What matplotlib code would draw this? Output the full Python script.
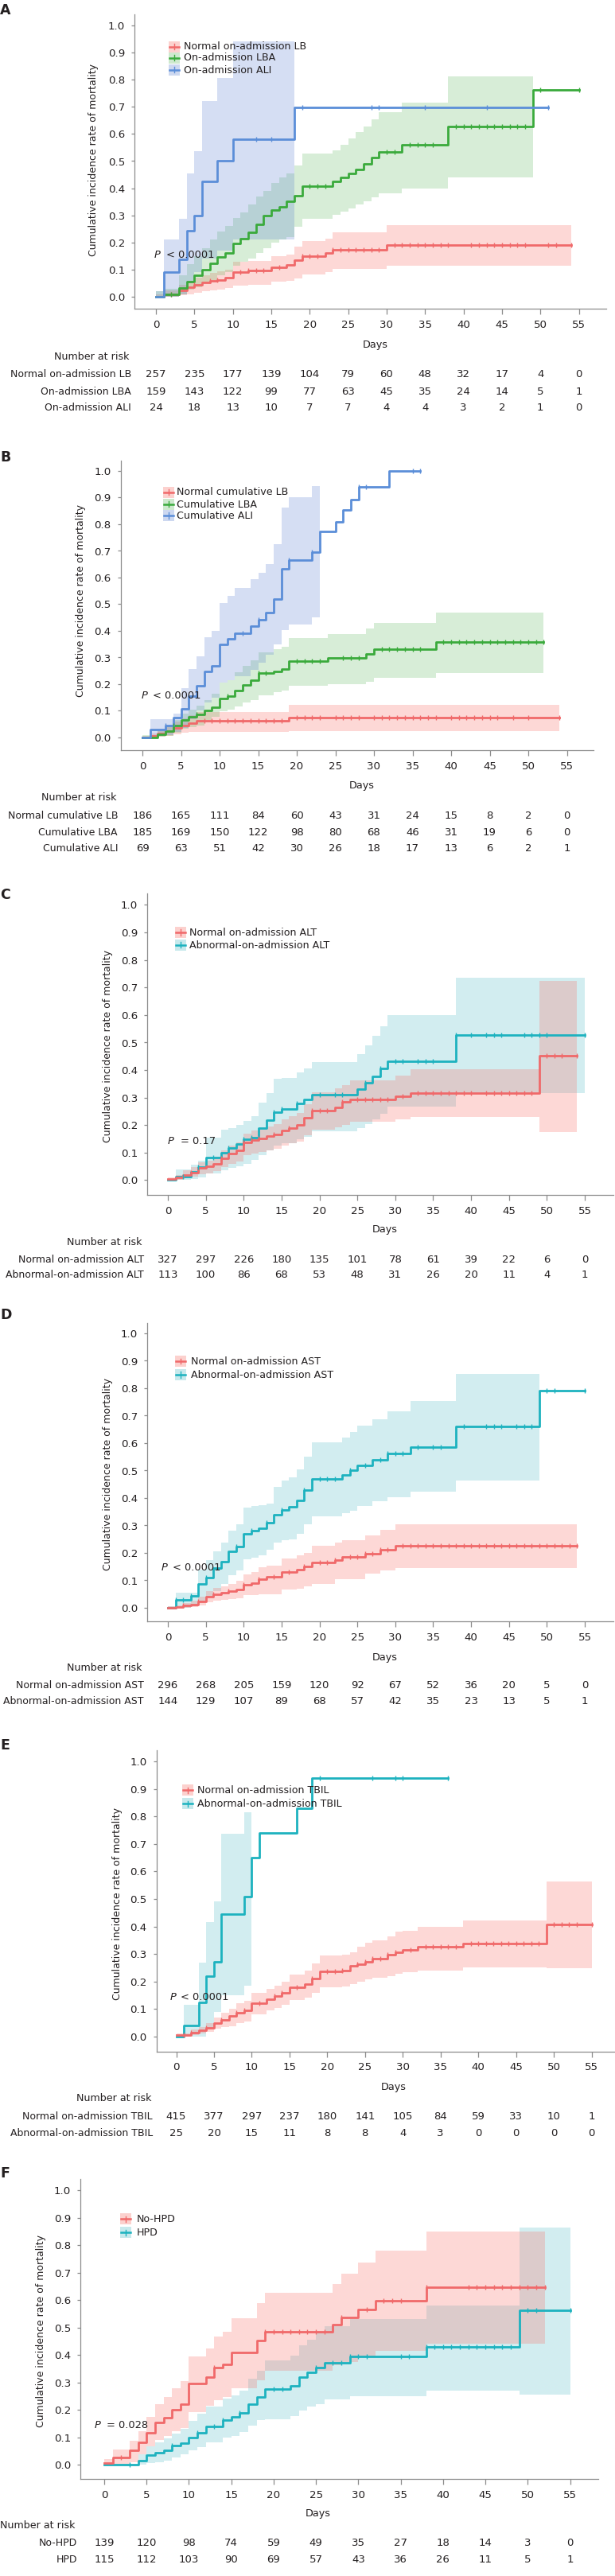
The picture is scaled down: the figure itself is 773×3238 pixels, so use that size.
import numpy as np
import matplotlib
matplotlib.use("Agg")
import matplotlib.pyplot as plt
from matplotlib.patches import Rectangle
from matplotlib.lines import Line2D
from matplotlib.transforms import blended_transform_factory

W, H = 773, 3238
INK = "#231f20"
AXC = "#8c8c8c"
plt.rcParams["font.family"] = "DejaVu Sans"

DAYS = [0, 5, 10, 15, 20, 25, 30, 35, 40, 45, 50, 55]
YTICKS = [0.0, 0.1, 0.2, 0.3, 0.4, 0.5, 0.6, 0.7, 0.8, 0.9, 1.0]

# ---------------- panel A: on-admission LB / LBA / ALI ----------------
a_lb_t = [0, 1, 3, 4, 5, 6, 7, 8, 9, 10, 12, 15, 17, 18, 19, 22, 23, 30]
a_lb_F = [0.0, 0.008, 0.024, 0.034, 0.044, 0.052, 0.059, 0.063, 0.070, 0.091, 0.096, 0.109, 0.117, 0.134, 0.151, 0.161, 0.173, 0.190]
a_lb_lo = [0.0, 0.0, 0.005, 0.01, 0.015, 0.02, 0.024, 0.027, 0.031, 0.042, 0.045, 0.055, 0.06, 0.068, 0.083, 0.09, 0.104, 0.114]
a_lb_hi = [0.01, 0.022, 0.045, 0.058, 0.07, 0.08, 0.088, 0.094, 0.10, 0.128, 0.132, 0.15, 0.155, 0.185, 0.205, 0.215, 0.237, 0.263]
a_lb_end = 54
a_lb_cens = [2, 5, 7, 8, 11, 12, 13, 14, 16, 19, 20, 21, 23, 24, 25, 26, 27, 28, 29, 31, 32, 33, 34, 35,
             36, 37, 38, 41, 42, 43, 44, 45, 46, 47, 48, 51, 52, 54]

a_lba_t = [0, 1, 3, 4, 5, 6, 7, 8, 9, 10, 11, 12, 13, 14, 15, 16, 17, 18, 19, 23, 24, 25, 26, 27, 28, 29, 32, 38, 49]
a_lba_F = [0.0, 0.01, 0.031, 0.057, 0.078, 0.10, 0.122, 0.146, 0.161, 0.197, 0.215, 0.239, 0.268, 0.298, 0.319,
           0.332, 0.351, 0.371, 0.408, 0.424, 0.439, 0.454, 0.47, 0.49, 0.512, 0.535, 0.561, 0.629, 0.761]
a_lba_lo = [0.0, 0.0, 0.01, 0.025, 0.035, 0.05, 0.062, 0.08, 0.09, 0.115, 0.13, 0.14, 0.16, 0.18, 0.2, 0.21,
            0.22, 0.259, 0.288, 0.302, 0.315, 0.325, 0.34, 0.351, 0.366, 0.38, 0.398, 0.441]
a_lba_hi = [0.02, 0.03, 0.08, 0.12, 0.15, 0.18, 0.21, 0.24, 0.26, 0.29, 0.31, 0.34, 0.37, 0.39, 0.42, 0.44,
            0.455, 0.483, 0.527, 0.541, 0.561, 0.583, 0.608, 0.629, 0.654, 0.681, 0.717, 0.813]
a_lba_end = 55
a_lba_cens = [2, 20, 21, 22, 30, 31, 33, 34, 35, 36, 39, 40, 41, 42, 43, 44, 45, 46, 47, 48, 50, 55]

a_ali_t = [0, 1, 3, 4, 5, 6, 8, 10, 18]
a_ali_F = [0.0, 0.091, 0.137, 0.242, 0.30, 0.424, 0.50, 0.58, 0.698]
a_ali_lo = [0.0, 0.0, 0.01, 0.05, 0.09, 0.14, 0.17, 0.21]
a_ali_hi = [0.02, 0.21, 0.288, 0.454, 0.537, 0.72, 0.805, 0.94]
a_ali_end = 51
a_ali_cens = [13, 15, 19, 28, 29, 35, 43, 51]

a_names = ["Normal on-admission LB", "On-admission LBA", "On-admission ALI"]
a_risk_lb = [257, 235, 177, 139, 104, 79, 60, 48, 32, 17, 4, 0]
a_risk_lba = [159, 143, 122, 99, 77, 63, 45, 35, 24, 14, 5, 1]
a_risk_ali = [24, 18, 13, 10, 7, 7, 4, 4, 3, 2, 1, 0]

# ---------------- panel B: cumulative LB / LBA / ALI ----------------
b_lb_t = [0, 1, 2, 3, 4, 5, 6, 7, 19]
b_lb_F = [0.0, 0.005, 0.014, 0.024, 0.035, 0.044, 0.054, 0.062, 0.075]
b_lb_lo = [0.0, 0.0, 0.002, 0.006, 0.012, 0.017, 0.02, 0.02, 0.025]
b_lb_hi = [0.005, 0.015, 0.03, 0.045, 0.06, 0.072, 0.085, 0.095, 0.121]
b_lb_end = 54
b_lb_cens = [8, 9, 10, 11, 12, 13, 14, 15, 16, 17, 18, 20, 21, 22, 23, 25, 26, 27, 28, 30, 31, 32, 33, 34,
             35, 36, 37, 38, 40, 41, 42, 43, 44, 45, 46, 48, 50, 54]

b_lba_t = [0, 2, 3, 4, 5, 6, 7, 8, 9, 10, 11, 12, 13, 14, 15, 17, 18, 19, 24, 29, 30, 38]
b_lba_F = [0.0, 0.012, 0.025, 0.044, 0.067, 0.079, 0.087, 0.10, 0.113, 0.146, 0.156, 0.176, 0.198, 0.216,
           0.241, 0.249, 0.256, 0.286, 0.299, 0.312, 0.33, 0.357]
b_lba_lo = [0.0, 0.002, 0.007, 0.018, 0.032, 0.04, 0.045, 0.067, 0.077, 0.098, 0.105, 0.115, 0.13, 0.14,
            0.158, 0.17, 0.175, 0.193, 0.2, 0.21, 0.224, 0.241]
b_lba_hi = [0.01, 0.025, 0.045, 0.065, 0.09, 0.105, 0.12, 0.14, 0.163, 0.206, 0.215, 0.245, 0.27, 0.29,
            0.318, 0.33, 0.34, 0.373, 0.388, 0.41, 0.43, 0.47]
b_lba_end = 52
b_lba_cens = [4, 7, 11, 15, 16, 20, 21, 22, 23, 26, 27, 28, 31, 32, 33, 34, 35, 36, 39, 40, 41, 42, 43,
              44, 45, 46, 47, 48, 49, 50, 51, 52]

b_ali_t = [0, 1, 3, 4, 5, 6, 7, 8, 9, 10, 11, 12, 14, 15, 16, 17, 18, 19, 22, 23, 25, 26, 27, 28, 32]
b_ali_F = [0.0, 0.029, 0.045, 0.075, 0.108, 0.155, 0.193, 0.249, 0.27, 0.35, 0.37, 0.392, 0.418, 0.442,
           0.47, 0.52, 0.634, 0.666, 0.697, 0.773, 0.81, 0.853, 0.893, 0.939, 1.0]
b_ali_lo = [0.0, 0.005, 0.01, 0.02, 0.035, 0.07, 0.1, 0.13, 0.15, 0.206, 0.215, 0.23, 0.255, 0.28, 0.31,
            0.35, 0.403, 0.425, 0.45]
b_ali_hi = [0.0, 0.069, 0.069, 0.09, 0.186, 0.256, 0.305, 0.375, 0.40, 0.505, 0.532, 0.562, 0.594, 0.619,
            0.652, 0.724, 0.863, 0.90, 0.944]
b_ali_end = 36
b_ali_cens = [3, 13, 15, 19, 22, 28, 29, 35, 36]

b_names = ["Normal cumulative LB", "Cumulative LBA", "Cumulative ALI"]
b_risk_lb = [186, 165, 111, 84, 60, 43, 31, 24, 15, 8, 2, 0]
b_risk_lba = [185, 169, 150, 122, 98, 80, 68, 46, 31, 19, 6, 0]
b_risk_ali = [69, 63, 51, 42, 30, 26, 18, 17, 13, 6, 2, 1]

# ---------------- panel C: ALT ----------------
c_nor_t = [0, 1, 2, 3, 4, 5, 6, 7, 8, 9, 10, 11, 12, 13, 14, 15, 16, 17, 18, 19, 22, 23, 24, 30, 32, 49]
c_nor_F = [0.004, 0.009, 0.018, 0.028, 0.044, 0.05, 0.059, 0.08, 0.096, 0.108, 0.137, 0.146, 0.153, 0.16,
           0.166, 0.181, 0.19, 0.20, 0.226, 0.254, 0.264, 0.285, 0.293, 0.306, 0.316, 0.451]
c_nor_lo = [0.0, 0.002, 0.006, 0.012, 0.022, 0.026, 0.032, 0.048, 0.06, 0.068, 0.09, 0.097, 0.102, 0.108,
            0.113, 0.125, 0.133, 0.14, 0.163, 0.184, 0.192, 0.2, 0.212, 0.22, 0.229, 0.174]
c_nor_hi = [0.01, 0.02, 0.035, 0.048, 0.065, 0.072, 0.085, 0.108, 0.125, 0.138, 0.17, 0.18, 0.188, 0.196,
            0.205, 0.222, 0.232, 0.245, 0.275, 0.319, 0.335, 0.345, 0.364, 0.381, 0.404, 0.725]
c_nor_end = 54
c_nor_cens = [3, 7, 10, 11, 12, 14, 16, 19, 20, 21, 23, 25, 26, 27, 28, 29, 31, 33, 34, 35, 36, 37, 38,
              39, 40, 42, 43, 44, 45, 46, 47, 48, 50, 51, 52, 54]

c_abn_t = [0, 1, 3, 4, 5, 7, 8, 9, 10, 11, 12, 13, 14, 15, 17, 18, 19, 25, 26, 27, 28, 29, 38]
c_abn_F = [0.0, 0.012, 0.03, 0.049, 0.083, 0.1, 0.118, 0.132, 0.148, 0.155, 0.189, 0.218, 0.246, 0.26,
           0.278, 0.293, 0.312, 0.33, 0.355, 0.378, 0.405, 0.433, 0.527]
c_abn_lo = [0.0, 0.0, 0.004, 0.01, 0.025, 0.035, 0.045, 0.05, 0.06, 0.073, 0.09, 0.108, 0.125, 0.135,
            0.148, 0.158, 0.178, 0.19, 0.205, 0.222, 0.24, 0.267, 0.316]
c_abn_hi = [0.0, 0.04, 0.055, 0.07, 0.156, 0.184, 0.19, 0.2, 0.215, 0.234, 0.281, 0.316, 0.368, 0.372,
            0.392, 0.407, 0.43, 0.459, 0.489, 0.524, 0.56, 0.60, 0.735]
c_abn_end = 55
c_abn_cens = [2, 4, 6, 8, 10, 11, 14, 15, 17, 20, 22, 23, 26, 28, 30, 31, 33, 34, 35, 38, 40, 42, 43, 44,
              47, 48, 49, 50, 55]

c_names = ["Normal on-admission ALT", "Abnormal-on-admission ALT"]
c_risk_nor = [327, 297, 226, 180, 135, 101, 78, 61, 39, 22, 6, 0]
c_risk_abn = [113, 100, 86, 68, 53, 48, 31, 26, 20, 11, 4, 1]

# ---------------- panel D: AST ----------------
d_nor_t = [0, 1, 2, 3, 4, 5, 6, 7, 8, 9, 10, 11, 12, 13, 15, 17, 18, 19, 22, 23, 26, 28, 30]
d_nor_F = [0.0, 0.003, 0.008, 0.012, 0.024, 0.04, 0.05, 0.056, 0.061, 0.067, 0.083, 0.09, 0.104, 0.112,
           0.129, 0.139, 0.15, 0.166, 0.174, 0.185, 0.196, 0.212, 0.226]
d_nor_lo = [0.0, 0.0, 0.001, 0.003, 0.01, 0.02, 0.025, 0.028, 0.031, 0.035, 0.045, 0.046, 0.048, 0.05,
            0.067, 0.07, 0.078, 0.088, 0.104, 0.104, 0.126, 0.137, 0.144]
d_nor_hi = [0.005, 0.01, 0.018, 0.025, 0.042, 0.061, 0.072, 0.079, 0.086, 0.099, 0.123, 0.13, 0.147, 0.155,
            0.18, 0.19, 0.2, 0.225, 0.239, 0.247, 0.265, 0.284, 0.303]
d_nor_end = 54
d_nor_cens = [2, 4, 6, 8, 10, 12, 14, 16, 18, 20, 21, 22, 24, 25, 26, 27, 28, 29, 31, 32, 33, 34, 35, 36,
              37, 38, 39, 40, 41, 42, 43, 44, 45, 46, 47, 48, 49, 50, 51, 52, 53, 54]

d_abn_t = [0, 1, 3, 4, 5, 6, 7, 8, 9, 10, 11, 12, 13, 14, 15, 16, 17, 18, 19, 23, 24, 25, 27, 29, 32, 38, 49]
d_abn_F = [0.0, 0.029, 0.043, 0.088, 0.11, 0.144, 0.169, 0.206, 0.223, 0.271, 0.282, 0.29, 0.31, 0.34,
           0.357, 0.368, 0.392, 0.429, 0.47, 0.484, 0.502, 0.52, 0.54, 0.561, 0.585, 0.66, 0.792]
d_abn_lo = [0.0, 0.0, 0.005, 0.024, 0.04, 0.06, 0.088, 0.12, 0.137, 0.176, 0.183, 0.19, 0.212, 0.237,
            0.245, 0.25, 0.27, 0.303, 0.333, 0.344, 0.355, 0.37, 0.387, 0.402, 0.424, 0.465]
d_abn_hi = [0.005, 0.056, 0.056, 0.14, 0.174, 0.206, 0.239, 0.282, 0.303, 0.365, 0.37, 0.375, 0.38, 0.44,
            0.465, 0.475, 0.505, 0.55, 0.602, 0.62, 0.64, 0.664, 0.687, 0.717, 0.753, 0.852]
d_abn_end = 55
d_abn_cens = [1, 2, 3, 5, 9, 11, 13, 15, 18, 20, 21, 22, 24, 26, 28, 29, 30, 31, 33, 35, 36, 39, 42, 43,
              44, 46, 47, 48, 50, 51, 55]

d_names = ["Normal on-admission AST", "Abnormal-on-admission AST"]
d_risk_nor = [296, 268, 205, 159, 120, 92, 67, 52, 36, 20, 5, 0]
d_risk_abn = [144, 129, 107, 89, 68, 57, 42, 35, 23, 13, 5, 1]

# ---------------- panel E: TBIL ----------------
e_nor_t = [0, 2, 3, 4, 5, 6, 7, 8, 9, 10, 12, 13, 14, 15, 17, 18, 19, 22, 23, 24, 25, 26, 28, 29, 30, 32, 38, 49]
e_nor_F = [0.005, 0.015, 0.023, 0.033, 0.049, 0.062, 0.075, 0.088, 0.096, 0.12, 0.137, 0.148, 0.16, 0.179,
           0.192, 0.21, 0.238, 0.241, 0.257, 0.264, 0.272, 0.283, 0.298, 0.307, 0.314, 0.326, 0.337, 0.407]
e_nor_lo = [0.0, 0.006, 0.011, 0.018, 0.028, 0.035, 0.038, 0.05, 0.055, 0.08, 0.095, 0.105, 0.115, 0.132,
            0.142, 0.158, 0.179, 0.182, 0.192, 0.2, 0.207, 0.213, 0.22, 0.227, 0.234, 0.241, 0.252, 0.248]
e_nor_hi = [0.012, 0.025, 0.036, 0.05, 0.07, 0.087, 0.1, 0.121, 0.13, 0.158, 0.172, 0.185, 0.2, 0.226,
            0.241, 0.267, 0.295, 0.298, 0.307, 0.327, 0.34, 0.35, 0.363, 0.381, 0.385, 0.399, 0.421, 0.563]
e_nor_end = 55
e_nor_cens = [1, 2, 4, 6, 8, 9, 11, 13, 14, 16, 18, 20, 21, 22, 24, 25, 26, 27, 28, 29, 31, 33, 34, 35, 36,
              37, 39, 40, 41, 42, 43, 44, 45, 46, 47, 48, 50, 51, 52, 53, 55]

e_abn_t = [0, 1, 3, 4, 5, 6, 9, 10, 11, 16, 18]
e_abn_F = [0.0, 0.04, 0.125, 0.22, 0.272, 0.444, 0.508, 0.65, 0.74, 0.83, 0.938]
e_abn_lo = [0.0, 0.0, 0.0, 0.03, 0.09, 0.15, 0.186]
e_abn_hi = [0.0, 0.116, 0.27, 0.415, 0.49, 0.737, 0.816]
e_abn_end = 36
e_abn_cens = [19, 26, 29, 30, 36]

e_names = ["Normal on-admission TBIL", "Abnormal-on-admission TBIL"]
e_risk_nor = [415, 377, 297, 237, 180, 141, 105, 84, 59, 33, 10, 1]
e_risk_abn = [25, 20, 15, 11, 8, 8, 4, 3, 0, 0, 0, 0]

# ---------------- panel F: HPD ----------------
f_no_t = [0, 1, 3, 4, 5, 6, 7, 8, 9, 10, 12, 13, 14, 15, 18, 19, 27, 28, 30, 32, 38]
f_no_F = [0.005, 0.027, 0.051, 0.082, 0.116, 0.153, 0.172, 0.201, 0.221, 0.295, 0.318, 0.354, 0.366, 0.41,
          0.453, 0.484, 0.511, 0.537, 0.566, 0.598, 0.647]
f_no_lo = [0.0, 0.0, 0.01, 0.037, 0.066, 0.09, 0.105, 0.121, 0.134, 0.192, 0.214, 0.235, 0.245, 0.279,
           0.308, 0.342, 0.361, 0.375, 0.395, 0.414, 0.44]
f_no_hi = [0.019, 0.054, 0.088, 0.122, 0.175, 0.221, 0.245, 0.279, 0.305, 0.395, 0.424, 0.466, 0.484, 0.533,
           0.589, 0.626, 0.659, 0.697, 0.736, 0.779, 0.85]
f_no_end = 52
f_no_cens = [2, 13, 19, 20, 21, 22, 23, 24, 25, 26, 28, 31, 33, 34, 35, 38, 43, 44, 45, 46, 47, 48, 49, 50, 51, 52]

f_hpd_t = [0, 4, 5, 6, 7, 8, 9, 10, 11, 12, 14, 15, 16, 17, 18, 19, 22, 23, 24, 25, 26, 29, 38, 49]
f_hpd_F = [0.0, 0.015, 0.034, 0.044, 0.051, 0.069, 0.078, 0.10, 0.117, 0.14, 0.163, 0.175, 0.187, 0.221,
           0.245, 0.274, 0.288, 0.318, 0.335, 0.354, 0.371, 0.393, 0.429, 0.561]
f_hpd_lo = [0.0, 0.0, 0.005, 0.01, 0.015, 0.025, 0.037, 0.051, 0.063, 0.082, 0.098, 0.105, 0.12, 0.143,
            0.163, 0.165, 0.177, 0.197, 0.211, 0.22, 0.237, 0.25, 0.269, 0.255]
f_hpd_hi = [0.0, 0.037, 0.066, 0.08, 0.095, 0.114, 0.131, 0.16, 0.185, 0.211, 0.24, 0.253, 0.27, 0.313,
            0.342, 0.379, 0.398, 0.434, 0.456, 0.48, 0.504, 0.53, 0.581, 0.864]
f_hpd_end = 55
f_hpd_cens = [3, 8, 11, 13, 14, 16, 20, 21, 25, 27, 28, 29, 30, 31, 35, 36, 38, 39, 40, 41, 42, 43, 44, 45,
              46, 47, 48, 50, 51, 55]

f_names = ["No-HPD", "HPD"]
f_risk_no = [139, 120, 98, 74, 59, 49, 35, 27, 18, 14, 3, 0]
f_risk_hpd = [115, 112, 103, 90, 69, 57, 43, 36, 26, 11, 5, 1]

# colours: (line, band fill, band alpha)
RED = ("#f0696a", "#f8766d", 0.28)
GRN = ("#3aaa3c", "#4daf4a", 0.22)
BLU = ("#5b8ed8", "#5a7fd0", 0.25)
TEA = ("#1db2bf", "#21a9b5", 0.20)

fig = plt.figure(figsize=(W / 100, H / 100), dpi=100)


def fx(px):
    return px / W


def fy(py):
    return 1 - py / H


def ftext(x, y, s, size=9.2, **kw):
    kw.setdefault("va", "center")
    fig.text(fx(x), fy(y), s, fontsize=size, color=INK, **kw)


def make_axes(box, x0, x55, y0, y1):
    l, r, t, b = box
    ax = fig.add_axes([fx(l), fy(b), (r - l) / W, (b - t) / H])
    kx = (x55 - x0) / 55.0
    ky = float(y0 - y1)
    ax.set_xlim((l - x0) / kx, (r - x0) / kx)
    ax.set_ylim((y0 - b) / ky, (y0 - t) / ky)
    ax.patch.set_alpha(0)
    for s in ("top", "right"):
        ax.spines[s].set_visible(False)
    for s in ("left", "bottom"):
        ax.spines[s].set_color(AXC)
        ax.spines[s].set_linewidth(0.9)
    ax.set_xticks(DAYS)
    ax.set_yticks(YTICKS)
    ax.set_yticklabels([f"{v:.1f}" for v in YTICKS])
    ax.tick_params(axis="x", length=5, width=0.9, color=AXC, pad=5, labelsize=9.6, labelcolor=INK)
    ax.tick_params(axis="y", length=3, width=0.9, color=AXC, pad=5.5, labelsize=9.6, labelcolor=INK)
    return ax


def draw_band(ax, t, lo, hi, end, col):
    n = len(lo)
    stop = t[n] if n < len(t) else end
    xs = list(t[:n]) + [stop]
    ax.fill_between(xs, list(lo) + [lo[-1]], list(hi) + [hi[-1]], step="post",
                    color=col[1], alpha=col[2], lw=0, zorder=1)


def draw_curve(ax, t, F, end, cens, col):
    ax.step(list(t) + [end], list(F) + [F[-1]], where="post", color=col[0], lw=2.0, zorder=3)
    idx = np.searchsorted(t, cens, side="right") - 1
    ax.plot(cens, np.asarray(F)[idx], ls="none", marker="|", ms=5, mew=1.0, color=col[0], zorder=4)


PANELS = [
    dict(letter="A", names=a_names, risks=[a_risk_lb, a_risk_lba, a_risk_ali], keys=[RED, GRN, BLU],
         curves=[(a_lb_t, a_lb_F, a_lb_lo, a_lb_hi, a_lb_end, a_lb_cens, RED),
                 (a_lba_t, a_lba_F, a_lba_lo, a_lba_hi, a_lba_end, a_lba_cens, GRN),
                 (a_ali_t, a_ali_F, a_ali_lo, a_ali_hi, a_ali_end, a_ali_cens, BLU)],
         p="< 0.0001"),
    dict(letter="B", names=b_names, risks=[b_risk_lb, b_risk_lba, b_risk_ali], keys=[RED, GRN, BLU],
         curves=[(b_lb_t, b_lb_F, b_lb_lo, b_lb_hi, b_lb_end, b_lb_cens, RED),
                 (b_lba_t, b_lba_F, b_lba_lo, b_lba_hi, b_lba_end, b_lba_cens, GRN),
                 (b_ali_t, b_ali_F, b_ali_lo, b_ali_hi, b_ali_end, b_ali_cens, BLU)],
         p="< 0.0001"),
    dict(letter="C", names=c_names, risks=[c_risk_nor, c_risk_abn], keys=[RED, TEA],
         curves=[(c_abn_t, c_abn_F, c_abn_lo, c_abn_hi, c_abn_end, c_abn_cens, TEA),
                 (c_nor_t, c_nor_F, c_nor_lo, c_nor_hi, c_nor_end, c_nor_cens, RED)],
         p="= 0.17"),
    dict(letter="D", names=d_names, risks=[d_risk_nor, d_risk_abn], keys=[RED, TEA],
         curves=[(d_abn_t, d_abn_F, d_abn_lo, d_abn_hi, d_abn_end, d_abn_cens, TEA),
                 (d_nor_t, d_nor_F, d_nor_lo, d_nor_hi, d_nor_end, d_nor_cens, RED)],
         p="< 0.0001"),
    dict(letter="E", names=e_names, risks=[e_risk_nor, e_risk_abn], keys=[RED, TEA],
         curves=[(e_abn_t, e_abn_F, e_abn_lo, e_abn_hi, e_abn_end, e_abn_cens, TEA),
                 (e_nor_t, e_nor_F, e_nor_lo, e_nor_hi, e_nor_end, e_nor_cens, RED)],
         p="< 0.0001"),
    dict(letter="F", names=f_names, risks=[f_risk_no, f_risk_hpd], keys=[RED, TEA],
         curves=[(f_hpd_t, f_hpd_F, f_hpd_lo, f_hpd_hi, f_hpd_end, f_hpd_cens, TEA),
                 (f_no_t, f_no_F, f_no_lo, f_no_hi, f_no_end, f_no_cens, RED)],
         p="= 0.028"),
]

# pixel layout of each panel
LAYOUT = [
    dict(ly=13, box=(169, 762, 18, 388), x0=196, x55=727.5, y0=373, y1=32, ylab=(118, 201),
         days=(472, 433), nar=(162, 448), rows=[470, 492, 512], rowx=165,
         leg=(212, 231, [59, 73, 88]), pv=(194, 209, 321)),
    dict(ly=575, box=(151.5, 746, 579, 943), x0=179, x55=712.5, y0=927, y1=592, ylab=(102, 755),
         days=(455, 988), nar=(146, 1002), rows=[1025, 1046, 1067], rowx=148,
         leg=(205, 222, [619, 634, 648]), pv=(177.5, 192.5, 874)),
    dict(ly=1125, box=(185, 771, 1123, 1502), x0=211, x55=735, y0=1483.5, y1=1137.5, ylab=(136, 1315),
         days=(484, 1546), nar=(179, 1561), rows=[1583, 1603], rowx=181,
         leg=(220, 237.5, [1172, 1188]), pv=(211, 227, 1434)),
    dict(ly=1653, box=(185, 771, 1663, 2038.5), x0=211, x55=735, y0=2021, y1=1676, ylab=(136, 1853),
         days=(484, 2083), nar=(179, 2096), rows=[2119, 2139], rowx=181,
         leg=(220, 240, [1711, 1728]), pv=(202.5, 217.5, 1970)),
    dict(ly=2194, box=(196.5, 773, 2200, 2578.5), x0=221.5, x55=743.5, y0=2560, y1=2214, ylab=(147, 2393),
         days=(495, 2623), nar=(190, 2637), rows=[2660, 2681], rowx=192,
         leg=(229, 248, [2250, 2267]), pv=(214, 227.5, 2510)),
    dict(ly=2732, box=(101, 752, 2739, 3116), x0=131, x55=716.5, y0=3098, y1=2753, ylab=(52, 2930),
         days=(400, 3159), nar=(95, 3174), rows=[3196, 3217], rowx=97,
         leg=(151, 172, [2789, 2806]), pv=(119, 134, 3048)),
]

for P, L in zip(PANELS, LAYOUT):
    ax = make_axes(L["box"], L["x0"], L["x55"], L["y0"], L["y1"])
    for t, F, lo, hi, end, cens, col in P["curves"]:
        draw_band(ax, t, lo, hi, end, col)
    for t, F, lo, hi, end, cens, col in P["curves"]:
        draw_curve(ax, t, F, end, cens, col)

    # panel letter
    ftext(0, L["ly"], P["letter"], size=12.5, weight="bold", ha="left")
    # y label
    ftext(L["ylab"][0], L["ylab"][1], "Cumulative incidence rate of mortality", size=9.0,
          rotation=90, ha="center")
    # x label
    ftext(L["days"][0], L["days"][1], "Days", ha="center")

    # legend
    px, tx, ys = L["leg"]
    for y, name, col in zip(ys, P["names"], P["keys"]):
        fig.add_artist(Rectangle((fx(px), fy(y + 7)), 14 / W, 14 / H, transform=fig.transFigure,
                                 facecolor=col[1], alpha=col[2] + 0.05, lw=0))
        fig.add_artist(Line2D([fx(px + 1), fx(px + 13)], [fy(y), fy(y)], color=col[0], lw=1.8,
                              transform=fig.transFigure))
        fig.add_artist(Line2D([fx(px + 7), fx(px + 7)], [fy(y - 3.5), fy(y + 3.5)], color=col[0], lw=1.0,
                              transform=fig.transFigure))
        ftext(tx, y, name, size=9.1, ha="left")

    # P value
    ftext(L["pv"][0], L["pv"][2], "P", size=9.4, style="italic", ha="left")
    ftext(L["pv"][1], L["pv"][2], P["p"], size=9.4, ha="left")

    # number at risk table
    ftext(L["nar"][0], L["nar"][1], "Number at risk", size=9.1, ha="right")
    trans = blended_transform_factory(ax.transData, fig.transFigure)
    for y, name, vals in zip(L["rows"], P["names"], P["risks"]):
        ftext(L["rowx"], y, name, size=9.0, ha="right")
        for d, v in zip(DAYS, vals):
            ax.text(d, fy(y), str(v), transform=trans, ha="center", va="center",
                    fontsize=9.5, color=INK, clip_on=False)

fig.savefig("out.png", dpi=100)
